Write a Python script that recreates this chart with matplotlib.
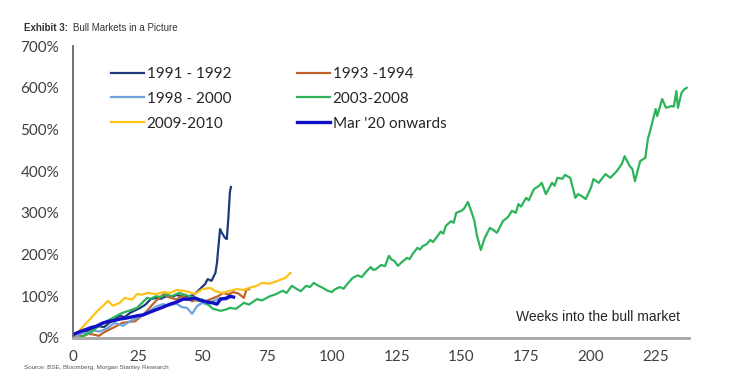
import matplotlib
matplotlib.use("Agg")
import matplotlib.pyplot as plt
from matplotlib.ticker import FuncFormatter

# Weeks into the bull market vs. cumulative return (%)
weeks_1991 = [0, 2, 4, 6, 8, 10, 12, 14, 16, 18, 20, 22, 24, 26, 28, 30, 32, 34, 36, 38,
              40, 42, 44, 46, 47, 49, 51, 52, 53.5, 55, 55.6, 56, 56.8, 57.5, 58.7, 59.4, 60, 60.6, 61]
ret_1991 = [5, 10, 14, 18, 24, 28, 26, 36, 44, 53, 50, 60, 66, 72, 80, 93, 96, 94, 100, 98,
            103, 100, 98, 102, 105, 117, 129, 141, 137, 156, 180, 208, 261, 252, 240, 237, 288, 350, 362]

weeks_1993 = [0, 2, 4, 6, 8, 10, 11.6, 14, 16, 19, 21, 24, 27, 28.6, 30, 32, 35, 37, 40,
              42, 44, 46, 48, 50, 52, 54, 56, 58, 60, 62, 64, 66, 67, 68]
ret_1993 = [3, 6, 4, 10, 8, 5, 12, 20, 26, 36, 38, 40, 55, 65, 75, 89, 105, 98, 92,
            100, 95, 88, 92, 86, 90, 95, 100, 108, 104, 110, 106, 96, 117, 117]

weeks_1998 = [0, 2, 4, 6, 8, 10, 13, 16, 19.3, 22, 24.7, 27, 29.7, 32, 34.7, 37, 40, 42,
              44, 46, 48, 50, 52, 54, 57, 59, 61]
ret_1998 = [2, 8, 12, 10, 18, 15, 22, 36, 29, 40, 48, 55, 65, 75, 81, 78, 82, 74,
            72, 58, 77, 84, 80, 88, 96, 92, 98]

weeks_2003 = [0, 2, 3, 5.4, 7, 9, 11, 13, 15.4, 18, 20, 22, 24.7, 26, 28.6, 30, 32, 34, 36, 38,
              41, 43, 45, 47, 48, 50, 52, 54, 57, 59, 60.6, 63, 66, 68, 71, 73, 76, 78, 81, 82.5,
              84.5, 86.5, 88, 90, 91.5, 93, 94.5, 96.5, 98, 100, 101, 103, 104.5, 106, 108, 110,
              111.5, 113.5, 115, 116, 117, 119, 120.5, 122, 123, 124, 125.5, 127, 129, 130, 131,
              133, 134, 135, 136.6, 138, 139, 140.5, 142, 143, 144, 146, 147, 148, 150, 151,
              152.5, 154, 155, 156, 157.5, 159, 161, 162.5, 163.7, 166, 168, 169.5, 171, 172,
              173, 175, 176, 178, 180, 181, 182.6, 185, 186, 187, 189, 190, 192, 194, 195,
              196.5, 198, 200, 201, 203, 205.6, 207.5, 210, 212, 213, 215, 216, 217, 219, 221,
              222, 223, 225, 225.6, 227.5, 229, 231, 232, 233, 233.6, 235, 236, 237]
ret_2003 = [0, -3, 2, 10, 14, 24, 32, 40, 48, 57, 62, 66, 72, 80, 96, 94, 100, 98, 105, 100,
            108, 104, 100, 96, 89, 92, 81, 70, 65, 68, 72, 70, 84, 80, 93, 90, 100, 104, 113, 108,
            125, 117, 112, 125, 122, 132, 126, 120, 114, 110, 116, 122, 118, 130, 144, 150,
            146, 161, 170, 163, 165, 175, 172, 197, 188, 185, 173, 182, 192, 189, 200,
            216, 212, 220, 225, 235, 230, 242, 255, 250, 269, 280, 276, 300, 305, 310,
            326, 300, 281, 245, 211, 240, 264, 258, 252, 280, 290, 305, 300, 321,
            315, 336, 330, 357, 365, 372, 345, 372, 365, 384, 382, 391, 384, 336, 345,
            340, 333, 360, 381, 372, 393, 384, 400, 418, 436, 412, 405, 376, 424, 432,
            477, 500, 549, 532, 573, 552, 556, 555, 592, 552, 588, 596, 600]

weeks_2009 = [0, 2, 4, 6.6, 9, 11.6, 13.5, 15.4, 18, 20, 22.8, 24.7, 26.6, 29, 32, 35, 37.5,
              40, 42.5, 45, 47, 50, 53, 55, 58, 60, 63, 66, 68, 71, 73, 76, 79, 82, 83, 84]
ret_2009 = [5, 15, 28, 45, 62, 77, 89, 77, 84, 96, 92, 105, 104, 108, 105, 110, 108,
            115, 113, 110, 105, 117, 120, 112, 108, 112, 117, 115, 120, 125, 132, 130, 137, 144, 150, 156]

weeks_2020 = [0, 1.5, 4, 6.6, 9, 11.6, 14, 16, 18, 21, 24.7, 27, 29, 31, 34, 37.5, 40, 42.5,
              45, 47, 50, 52, 54, 55.6, 57, 59, 60.6, 62]
ret_2020 = [8, 12, 18, 24, 28, 36, 40, 42, 45, 48, 53, 55, 60, 65, 72, 81, 86, 93,
            93, 96, 89, 86, 84, 81, 93, 95, 100, 98]

series = [
    ("1991 - 1992", weeks_1991, ret_1991, "#1F3A7A", 1.6),
    ("1993 -1994", weeks_1993, ret_1993, "#C0622A", 1.6),
    ("1998 - 2000", weeks_1998, ret_1998, "#6FA3DA", 1.6),
    ("2003-2008", weeks_2003, ret_2003, "#2DB35A", 1.6),
    ("2009-2010", weeks_2009, ret_2009, "#FFC21A", 1.6),
    ("Mar '20 onwards", weeks_2020, ret_2020, "#1010C8", 2.4),
]

x_ticks = [0, 25, 50, 75, 100, 125, 150, 175, 200, 225]
y_ticks = [0, 100, 200, 300, 400, 500, 600, 700]

fig = plt.figure(figsize=(7.32, 3.84), dpi=100)
ax = fig.add_axes([0.0997, 0.12, 0.842, 0.76])

handles = {}
for label, xs, ys, color, lw in series:
    (line,) = ax.plot(xs, ys, color=color, lw=lw, label=label, solid_joinstyle="round")
    handles[label] = line

ax.set_xlim(0, 238)
ax.set_ylim(0, 700)
ax.set_xticks(x_ticks)
ax.set_yticks(y_ticks)
ax.yaxis.set_major_formatter(FuncFormatter(lambda v, _: f"{v:.0f}%"))
ax.tick_params(length=0, labelsize=11, colors="#404040", labelfontfamily="Lato")
ax.tick_params(axis="y", pad=10)
ax.tick_params(axis="x", pad=9)

for spine in ("top", "right"):
    ax.spines[spine].set_visible(False)
ax.spines["left"].set_color("#595959")
ax.spines["left"].set_linewidth(1.2)
ax.spines["bottom"].set_color("#A6A6A6")
ax.spines["bottom"].set_linewidth(2.0)

# legend fills column-wise, so order the entries to read row-wise as in the exhibit
order = ["1991 - 1992", "1998 - 2000", "2009-2010", "1993 -1994", "2003-2008", "Mar '20 onwards"]
leg = ax.legend([handles[k] for k in order], order, loc="upper left",
                bbox_to_anchor=(0.039, 0.975), ncol=2, frameon=False,
                prop={"family": "Lato", "size": 11}, handlelength=2.2, handletextpad=0.15,
                columnspacing=4.3, labelspacing=0.7)
for t in leg.get_texts():
    t.set_color("#262626")

ax.text(0.985, 0.07, "Weeks into the bull market", transform=ax.transAxes,
        ha="right", va="center", fontsize=10, color="#262626", family="Liberation Sans")

fig.text(24 / 732, 1 - 28 / 384, "Exhibit 3:", fontsize=7, fontweight="bold",
         family="Liberation Sans", color="#333333", va="center")
fig.text(73 / 732, 1 - 28 / 384, "Bull Markets in a Picture", fontsize=7,
         family="Liberation Sans", color="#333333", va="center")
fig.text(24 / 732, 1 - 368 / 384, "Source: BSE, Bloomberg, Morgan Stanley Research",
         fontsize=4.5, family="Liberation Sans", color="#555555", va="center")

fig.savefig("out.png", dpi=100)
